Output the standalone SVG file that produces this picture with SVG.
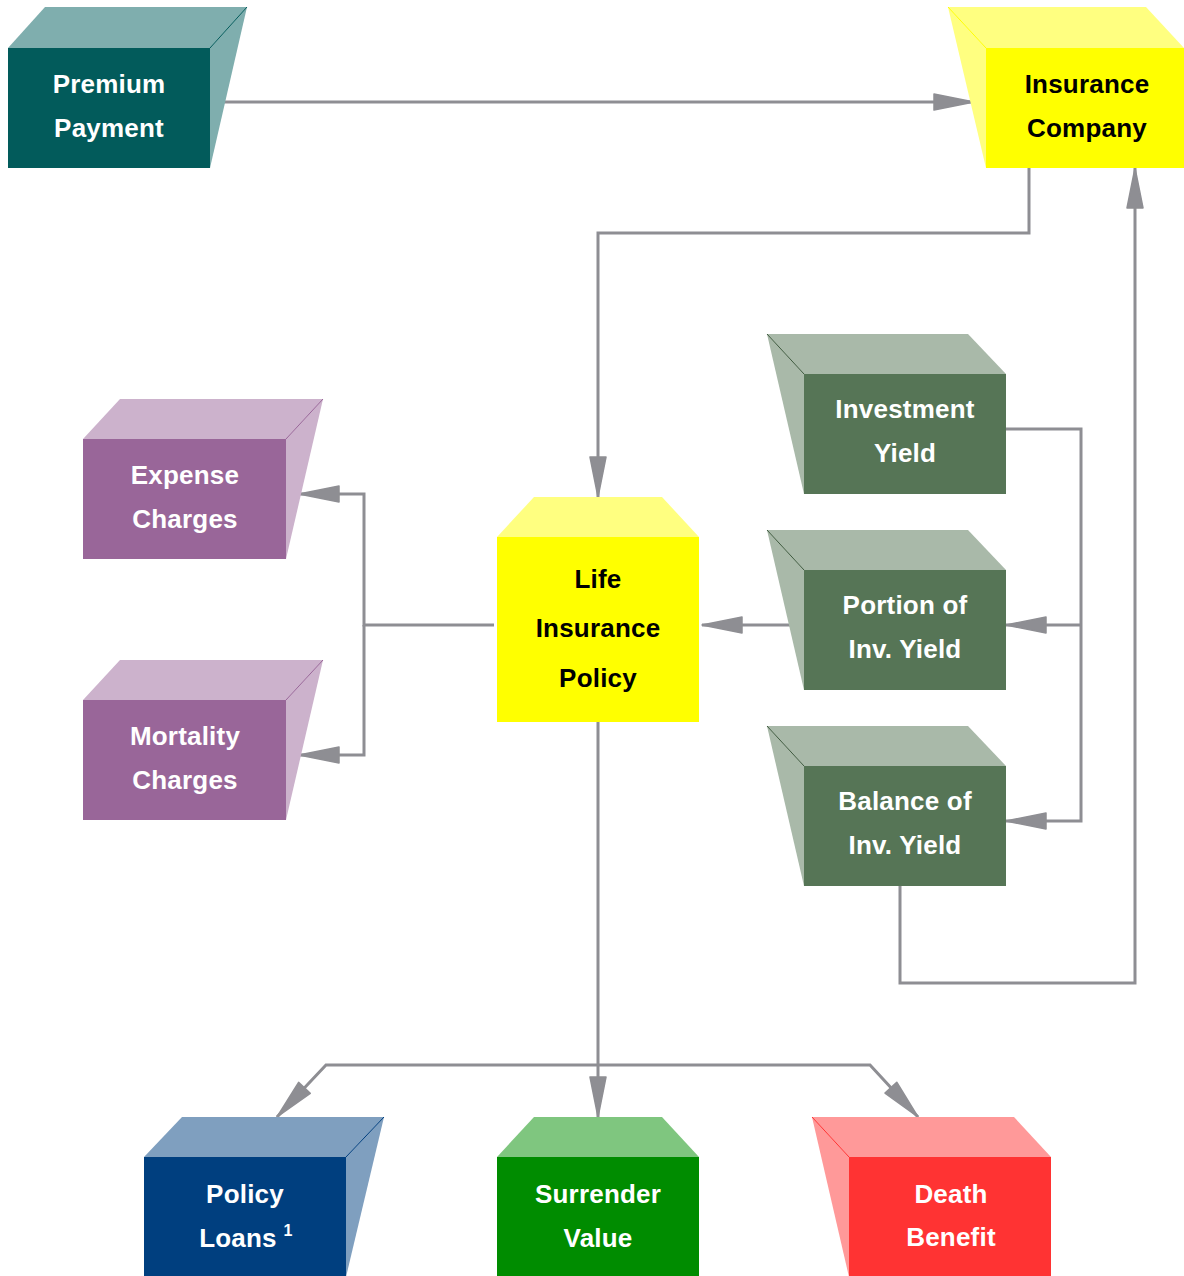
<svg xmlns="http://www.w3.org/2000/svg" width="1184" height="1276" viewBox="0 0 1184 1276">
<defs>
<style>
.t{font-family:"Liberation Sans",Arial,sans-serif;font-weight:bold;font-size:26px;letter-spacing:0.2px;text-anchor:middle}
.w{fill:#ffffff}
.k{fill:#000000}
.c{fill:none;stroke:#8e8e93;stroke-width:3}
</style>
<marker id="ah" viewBox="0 0 44 20" refX="42" refY="10" markerWidth="44" markerHeight="20" markerUnits="userSpaceOnUse" orient="auto">
<path d="M2,2 L42,10 L2,18 Z" fill="#8e8e93" stroke="#8e8e93" stroke-width="1.5" stroke-linejoin="round"/>
</marker>
</defs>
<rect width="1184" height="1276" fill="#ffffff"/>

<g id="connectors">
<path class="c" d="M223,102 H974" marker-end="url(#ah)"/>
<path class="c" d="M1029,168 V233 H598 V497" marker-end="url(#ah)"/>
<path class="c" d="M900,886 V983 H1135 V168" marker-end="url(#ah)"/>
<path class="c" d="M1006,429 H1081 V821 H1006" marker-end="url(#ah)"/>
<path class="c" d="M1081,625 H1006" marker-end="url(#ah)"/>
<path class="c" d="M790,625 H702" marker-end="url(#ah)"/>
<path class="c" d="M494,625 H364 V494 H299" marker-end="url(#ah)"/>
<path class="c" d="M364,625 V755 H299" marker-end="url(#ah)"/>
<path class="c" d="M598,722 V1117" marker-end="url(#ah)"/>
<path class="c" d="M598,1065 H326 L277,1117" marker-end="url(#ah)"/>
<path class="c" d="M598,1065 H870 L918,1117" marker-end="url(#ah)"/>
</g>

<g id="premium-payment">
<polygon points="8,48 45,7 247,7 210,48" fill="#7faeae"/>
<polygon points="210,48 247,7 210,168" fill="#7faeae"/>
<rect x="8" y="48" width="202" height="120" fill="#025b5b"/>
<line x1="210" y1="48" x2="247" y2="7" stroke="#025b5b" stroke-width="1"/>
<text class="t w" x="109" y="93">Premium</text>
<text class="t w" x="109" y="137">Payment</text>
</g>

<g id="insurance-company">
<polygon points="948,7 1146,7 1184,48 986,48" fill="#ffff80"/>
<polygon points="948,7 986,48 986,168" fill="#ffff80"/>
<rect x="986" y="48" width="198" height="120" fill="#ffff00"/>
<line x1="948" y1="7" x2="986" y2="48" stroke="#ffff00" stroke-width="1"/>
<text class="t k" x="1087" y="93">Insurance</text>
<text class="t k" x="1087" y="137">Company</text>
</g>

<g id="life-insurance-policy">
<polygon points="497,537 534,497 662,497 699,537" fill="#ffff80"/>
<rect x="497" y="537" width="202" height="185" fill="#ffff00"/>
<text class="t k" x="598" y="588">Life</text>
<text class="t k" x="598" y="637">Insurance</text>
<text class="t k" x="598" y="687">Policy</text>
</g>

<g id="investment-yield">
<polygon points="767,334 968,334 1006,374 804,374" fill="#a9b9a9"/>
<polygon points="767,334 804,374 804,494" fill="#a9b9a9"/>
<rect x="804" y="374" width="202" height="120" fill="#567556"/>
<line x1="767" y1="334" x2="804" y2="374" stroke="#3f5a3f" stroke-width="1"/>
<text class="t w" x="905" y="418">Investment</text>
<text class="t w" x="905" y="462">Yield</text>
</g>

<g id="portion-of-inv-yield">
<polygon points="767,530 968,530 1006,570 804,570" fill="#a9b9a9"/>
<polygon points="767,530 804,570 804,690" fill="#a9b9a9"/>
<rect x="804" y="570" width="202" height="120" fill="#567556"/>
<line x1="767" y1="530" x2="804" y2="570" stroke="#3f5a3f" stroke-width="1"/>
<text class="t w" x="905" y="614">Portion of</text>
<text class="t w" x="905" y="658">Inv. Yield</text>
</g>

<g id="balance-of-inv-yield">
<polygon points="767,726 968,726 1006,766 804,766" fill="#a9b9a9"/>
<polygon points="767,726 804,766 804,886" fill="#a9b9a9"/>
<rect x="804" y="766" width="202" height="120" fill="#567556"/>
<line x1="767" y1="726" x2="804" y2="766" stroke="#3f5a3f" stroke-width="1"/>
<text class="t w" x="905" y="810">Balance of</text>
<text class="t w" x="905" y="854">Inv. Yield</text>
</g>

<g id="expense-charges">
<polygon points="83,439 120,399 323,399 286,439" fill="#ccb2cc"/>
<polygon points="286,439 323,399 286,559" fill="#ccb2cc"/>
<rect x="83" y="439" width="203" height="120" fill="#996699"/>
<line x1="286" y1="439" x2="323" y2="399" stroke="#996699" stroke-width="1"/>
<text class="t w" x="185" y="484">Expense</text>
<text class="t w" x="185" y="528">Charges</text>
</g>

<g id="mortality-charges">
<polygon points="83,700 120,660 323,660 286,700" fill="#ccb2cc"/>
<polygon points="286,700 323,660 286,820" fill="#ccb2cc"/>
<rect x="83" y="700" width="203" height="120" fill="#996699"/>
<line x1="286" y1="700" x2="323" y2="660" stroke="#996699" stroke-width="1"/>
<text class="t w" x="185" y="745">Mortality</text>
<text class="t w" x="185" y="789">Charges</text>
</g>

<g id="policy-loans">
<polygon points="144,1157 182,1117 384,1117 346,1157" fill="#7f9fbf"/>
<polygon points="346,1157 384,1117 346,1277" fill="#7f9fbf"/>
<rect x="144" y="1157" width="202" height="120" fill="#003f7f"/>
<line x1="346" y1="1157" x2="384" y2="1117" stroke="#003f7f" stroke-width="1"/>
<text class="t w" x="245" y="1203">Policy</text>
<text class="t w" x="238" y="1247">Loans</text>
<text class="t w" x="288" y="1236" style="font-size:16px">1</text>
</g>

<g id="surrender-value">
<polygon points="497,1157 534,1117 662,1117 699,1157" fill="#7fc67f"/>
<rect x="497" y="1157" width="202" height="120" fill="#008c00"/>
<text class="t w" x="598" y="1203">Surrender</text>
<text class="t w" x="598" y="1247">Value</text>
</g>

<g id="death-benefit">
<polygon points="812,1117 1014,1117 1051,1157 849,1157" fill="#ff9999"/>
<polygon points="812,1117 849,1157 849,1277" fill="#ff9999"/>
<rect x="849" y="1157" width="202" height="120" fill="#ff3333"/>
<line x1="812" y1="1117" x2="849" y2="1157" stroke="#ff3333" stroke-width="1"/>
<text class="t w" x="951" y="1203">Death</text>
<text class="t w" x="951" y="1246">Benefit</text>
</g>
</svg>
